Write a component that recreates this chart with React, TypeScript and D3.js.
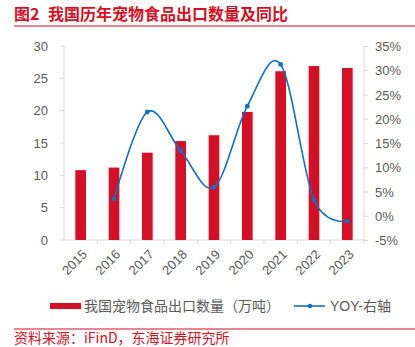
import React from "react";
import * as d3 from "d3";

const years = ["2015", "2016", "2017", "2018", "2019", "2020", "2021", "2022", "2023"];
const exportVolume = [10.8, 11.2, 13.5, 15.3, 16.2, 19.8, 26.1, 26.9, 26.6];
const yoyYears = ["2016", "2017", "2018", "2019", "2020", "2021", "2022", "2023"];
const yoy = [3.6, 21.5, 13.5, 6.0, 22.7, 31.3, 3.4, -1.0];
const leftTicks = [0, 5, 10, 15, 20, 25, 30];
const rightTicks = [-5, 0, 5, 10, 15, 20, 25, 30, 35];

const W = 415;
const H = 347;
const RED = "#D50F25";
const BLUE = "#0F6FC6";
const GRAY = "#595959";
const AXIS = "#D9D9D9";
const FONT = "'Liberation Sans', Arial, 'Noto Sans CJK SC', sans-serif";

export default function App() {
  const x0 = 64, x1 = 364, yTop = 46, yBot = 240;
  const x = d3.scaleBand<string>().domain(years).range([x0, x1]).paddingInner(0.68).paddingOuter(0.34);
  const yL = d3.scaleLinear().domain([0, 30]).range([yBot, yTop]);
  const yR = d3.scaleLinear().domain([-5, 35]).range([yBot + 0.5, yTop + 0.5]);
  const cx = (c: string) => (x(c) as number) + x.bandwidth() / 2;
  const pts: [number, number][] = yoyYears.map((c, i) => [cx(c), yR(yoy[i])]);
  const line = d3.line().curve(d3.curveCatmullRom.alpha(0))(pts) || "";
  const step = x.step();

  return (
    <svg width={W} height={H} style={{ position: "absolute", left: 0, top: 0 }} fontFamily={FONT}>
      <rect width={W} height={H} fill="#fff" />
      <text y={20} fill={RED} fontSize={16} fontWeight="bold" fontFamily="'Noto Sans CJK SC', sans-serif">
        <tspan x={14}>图2</tspan>
        <tspan x={48}>我国历年宠物食品出口数量及同比</tspan>
      </text>
      <line x1={14} x2={415} y1={26} y2={26} stroke={RED} strokeWidth={1.2} />

      {/* axes */}
      <line x1={x0} x2={x0} y1={yTop} y2={yBot} stroke={AXIS} />
      <line x1={x1} x2={x1} y1={yTop} y2={yBot} stroke={AXIS} />
      <line x1={x0} x2={x1} y1={yBot} y2={yBot} stroke={AXIS} />
      {leftTicks.map((t) => (
        <g key={"l" + t}>
          <line x1={x0 - 4} x2={x0} y1={yL(t)} y2={yL(t)} stroke={AXIS} />
          <text x={48} y={yL(t)} dy="0.35em" textAnchor="end" fontSize={13} fill={GRAY}>{t}</text>
        </g>
      ))}
      {rightTicks.map((t) => (
        <g key={"r" + t}>
          <line x1={x1} x2={x1 + 4} y1={yR(t)} y2={yR(t)} stroke={AXIS} />
          <text x={375} y={yR(t)} dy="0.35em" textAnchor="start" fontSize={13} fill={GRAY}>{t}%</text>
        </g>
      ))}
      {years.map((c, i) => (
        <line key={"xt" + c} x1={x0 + step * (i + 1)} x2={x0 + step * (i + 1)} y1={yBot} y2={yBot + 4} stroke={AXIS} />
      ))}
      {years.map((c) => (
        <text key={"xl" + c} transform={`translate(${cx(c) + 4},${yBot + 12}) rotate(-45)`} textAnchor="end"
          dy="0.35em" fontSize={13} fill={GRAY}>{c}</text>
      ))}

      {/* bars */}
      {years.map((c, i) => (
        <rect key={"b" + c} x={x(c)} y={yL(exportVolume[i])} width={x.bandwidth()} height={yBot - yL(exportVolume[i])} fill={RED} />
      ))}

      {/* line */}
      <path d={line} fill="none" stroke={BLUE} strokeWidth={1.6} />
      {pts.map((p, i) => (
        <circle key={"p" + i} cx={p[0]} cy={p[1]} r={2.4} fill={BLUE} />
      ))}

      {/* legend */}
      <rect x={50} y={303} width={31} height={6} fill={RED} />
      <text x={84} y={306} dy="0.35em" fontSize={14} fill={GRAY} fontFamily="'Noto Sans CJK SC', sans-serif">我国宠物食品出口数量（万吨）</text>
      <line x1={294} x2={325} y1={306} y2={306} stroke={BLUE} strokeWidth={1.6} />
      <circle cx={310} cy={306} r={2.2} fill={BLUE} />
      <text x={330} y={306} dy="0.35em" fontSize={14} fill={GRAY} fontFamily="'Liberation Sans', 'Noto Sans CJK SC', sans-serif">YOY-右轴</text>

      <line x1={14} x2={415} y1={329} y2={329} stroke={RED} strokeWidth={1.2} />
      <text x={14} y={343} fill={RED} fontSize={14} fontFamily="'Noto Sans CJK SC', sans-serif">资料来源：iFinD，东海证券研究所</text>
    </svg>
  );
}
